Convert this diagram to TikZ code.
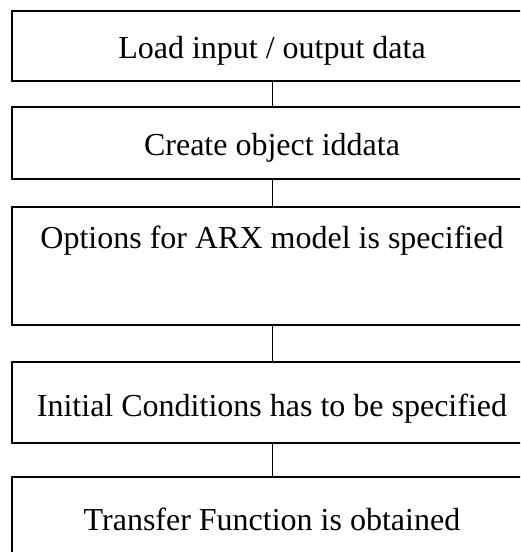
\documentclass[tikz,border=0pt]{standalone}
\usepackage{fontspec}
\setmainfont{Liberation Serif}
\begin{document}
\begin{tikzpicture}[x=1pt,y=-1pt,
  stepbox/.style={draw=black,line width=1.6pt,minimum width=520pt,inner sep=0pt},
  steptext/.style={anchor=base,inner sep=0pt,font=\fontsize{32}{38}\selectfont},
  link/.style={draw=black,line width=0.8pt}]
\useasboundingbox (0,0) rectangle (520,552);
\clip (0,0) rectangle (520,552);
\node[stepbox,minimum height=70pt] (b1) at (272,46) {};
\node[steptext] (t1) at (272,58) {Load input / output data};
\node[stepbox,minimum height=72pt] (b2) at (272,143) {};
\node[steptext] (t2) at (272,155) {Create object iddata};
\node[stepbox,minimum height=118pt] (b3) at (272,266) {};
\node[steptext] (t3) at (272,248) {Options for ARX model is specified};
\node[stepbox,minimum height=81pt] (b4) at (272,402.5) {};
\node[steptext] (t4) at (272,416) {Initial Conditions has to be specified};
\node[stepbox,minimum height=86pt] (b5) at (272,520) {};
\node[steptext] (t5) at (272,530) {Transfer Function is obtained};
\draw[link] (b1.south) -- (b2.north);
\draw[link] (b2.south) -- (b3.north);
\draw[link] (b3.south) -- (b4.north);
\draw[link] (b4.south) -- (b5.north);
\end{tikzpicture}
\end{document}
